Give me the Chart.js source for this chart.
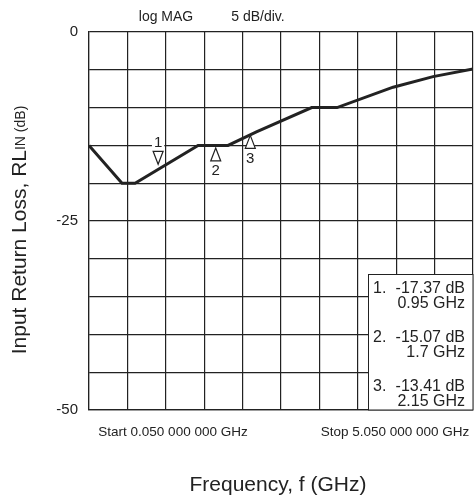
<!DOCTYPE html>
<html>
<head>
<meta charset="utf-8">
<script src="https://cdn.jsdelivr.net/npm/chart.js@4.4.0/dist/chart.umd.min.js"></script>
<style>
  html, body { margin: 0; padding: 0; background: #fff; }
  #wrap { width: 474px; height: 495px; }
</style>
</head>
<body>
<div id="wrap"><canvas id="rlChart" width="474" height="495"></canvas></div>
<script>
// trace (GHz, dB)
var freq = [0.05, 0.48, 0.65, 1.47, 1.86, 2.23, 2.95, 3.28, 4.01, 4.53, 5.05];
var loss = [-15, -20, -20, -15, -15, -13.2, -10, -10, -7.3, -5.9, -4.9];

// markers
var markerNum = ["1", "2", "3"];
var markerFreq = [0.95, 1.7, 2.15];
var markerLoss = [-17.37, -15.07, -13.41];
var markerText = ["-17.37 dB", "-15.07 dB", "-13.41 dB"];
var markerFreqText = ["0.95 GHz", "1.7 GHz", "2.15 GHz"];

// axes
var xTicks = [0.05, 0.55, 1.05, 1.55, 2.05, 2.55, 3.05, 3.55, 4.05, 4.55, 5.05];
var yLabelTicks = [0, -25, -50];
var startText = "Start 0.050 000 000 GHz";
var stopText = "Stop 5.050 000 000 GHz";

var FONT = "'Liberation Sans', Arial, Helvetica, sans-serif";

var points = [];
for (var i = 0; i < freq.length; i++) {
	points.push({x: freq[i], y: loss[i]});
}

var extras = {
	id: "extras",
	afterDraw: function(chart) {
		var ctx = chart.ctx;
		var ca = chart.chartArea;
		var xs = chart.scales.x;
		var ys = chart.scales.y;
		ctx.save();

		// header
		ctx.fillStyle = "#222";
		ctx.font = "14px " + FONT;
		ctx.textAlign = "center";
		ctx.textBaseline = "middle";
		ctx.fillText("log MAG", 166, 17);
		ctx.fillText("5 dB/div.", 258, 17);

		// start / stop
		ctx.font = "13.5px " + FONT;
		ctx.textBaseline = "alphabetic";
		ctx.fillText(startText, 173, 436);
		ctx.fillText(stopText, 395, 436);

		// x title
		ctx.font = "21px " + FONT;
		ctx.fillText("Frequency, f (GHz)", 278, 491);

		// y title with subscript
		ctx.save();
		ctx.translate(26, 230);
		ctx.rotate(-Math.PI / 2);
		ctx.textAlign = "left";
		var big = "Input Return Loss, RL", sub = "IN", tail = " (dB)";
		ctx.font = "21px " + FONT;
		var w1 = ctx.measureText(big).width;
		ctx.font = "14px " + FONT;
		var w2 = ctx.measureText(sub).width;
		var w3 = ctx.measureText(tail).width;
		var x0 = -(w1 + w2 + w3) / 2;
		ctx.font = "21px " + FONT;
		ctx.fillText(big, x0, 0);
		ctx.font = "14px " + FONT;
		ctx.fillText(sub, x0 + w1, -1);
		ctx.fillText(tail, x0 + w1 + w2, -1);
		ctx.restore();

		// marker triangles
		ctx.lineWidth = 1.2;
		ctx.strokeStyle = "#222";
		for (var m = 0; m < markerFreq.length; m++) {
			var px = xs.getPixelForValue(markerFreq[m]);
			var py = ys.getPixelForValue(markerLoss[m]);
			var above = m === 0;
			ctx.beginPath();
			if (above) {
				ctx.moveTo(px, py + 1);
				ctx.lineTo(px - 5, py - 12);
				ctx.lineTo(px + 5, py - 12);
			} else {
				ctx.moveTo(px, py + 2);
				ctx.lineTo(px - 5, py + 15);
				ctx.lineTo(px + 5, py + 15);
			}
			ctx.closePath();
			ctx.fillStyle = "#fff";
			ctx.fill();
			ctx.stroke();

			var ly = above ? py - 20 : py + 25;
			ctx.font = "15px " + FONT;
			ctx.textAlign = "center";
			ctx.textBaseline = "middle";
			var lw = ctx.measureText(markerNum[m]).width;
			ctx.fillStyle = "#fff";
			ctx.fillRect(px - lw / 2 - 2, ly - 6, lw + 4, 12);
			ctx.fillStyle = "#222";
			ctx.fillText(markerNum[m], px, ly);
		}

		// marker readout box
		var bx = 368.5, by = 274.5, bw = ca.right - 368.5, bh = ca.bottom - 274.5;
		ctx.fillStyle = "#fff";
		ctx.fillRect(bx, by, bw, bh);
		ctx.strokeStyle = "#222";
		ctx.lineWidth = 1;
		ctx.strokeRect(bx, by, bw, bh);
		ctx.font = "16px " + FONT;
		ctx.textBaseline = "middle";
		ctx.fillStyle = "#222";
		var rowY = [289, 338, 387];
		for (var k = 0; k < markerText.length; k++) {
			ctx.textAlign = "left";
			ctx.fillText(markerNum[k] + ".", 373, rowY[k]);
			ctx.textAlign = "right";
			ctx.fillText(markerText[k], 465, rowY[k]);
			ctx.fillText(markerFreqText[k], 465, rowY[k] + 15);
		}

		ctx.restore();
	}
};

var ctx = document.getElementById("rlChart");

var rlChart = new Chart(ctx, {
	type: "line",
	data: {
		datasets: [
			{
				label: "S11",
				data: points,
				borderColor: "#222",
				borderWidth: 3,
				pointRadius: 0,
				tension: 0,
				fill: false
			}
		]
	},
	options: {
		responsive: false,
		animation: false,
		layout: { padding: { top: 32, right: 1, left: 0, bottom: 0 } },
		plugins: {
			legend: { display: false },
			tooltip: { enabled: false }
		},
		scales: {
			x: {
				type: "linear",
				min: 0.05,
				max: 5.05,
				afterBuildTicks: function(scale) {
					scale.ticks = xTicks.map(function(v) { return {value: v}; });
				},
				afterFit: function(scale) { scale.height = 85; },
				ticks: { display: false },
				grid: { color: "#222", lineWidth: 1.2, drawTicks: false },
				border: { color: "#222", width: 1.2 }
			},
			y: {
				min: -50,
				max: 0,
				afterFit: function(scale) { scale.width = 89; },
				ticks: {
					stepSize: 5,
					padding: 11,
					color: "#222",
					font: { family: FONT, size: 15 },
					callback: function(v) {
						return yLabelTicks.indexOf(v) >= 0 ? String(v) : "";
					}
				},
				grid: { color: "#222", lineWidth: 1.2, drawTicks: false },
				border: { color: "#222", width: 1.2 }
			}
		}
	},
	plugins: [extras]
});
</script>
</body>
</html>
